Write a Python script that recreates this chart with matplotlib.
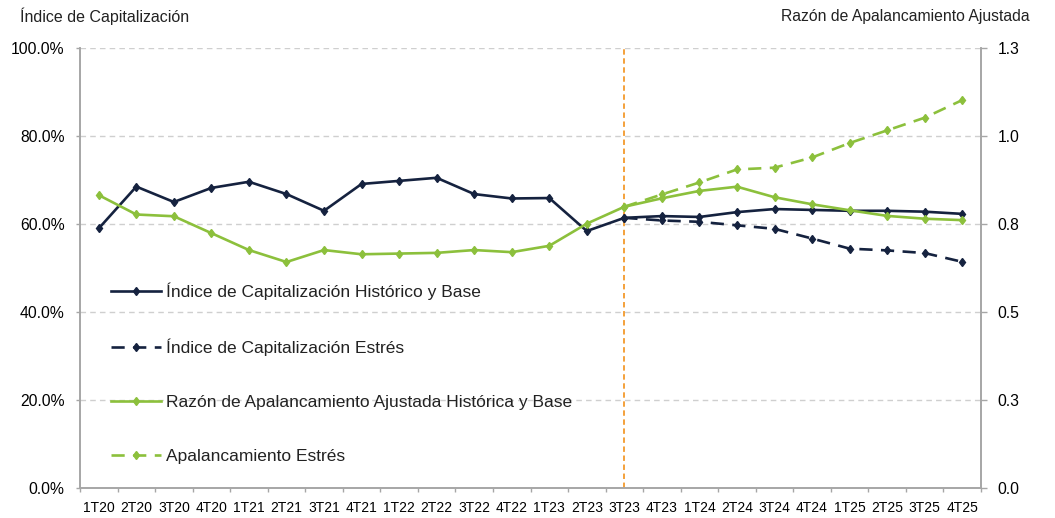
"""Índice de Capitalización y Razón de Apalancamiento Ajustada, histórico, base y estrés."""

import matplotlib

matplotlib.use("Agg")
import matplotlib.pyplot as plt
from matplotlib.ticker import FixedLocator, FuncFormatter

QUARTERS = [
    "1T20", "2T20", "3T20", "4T20", "1T21", "2T21", "3T21", "4T21",
    "1T22", "2T22", "3T22", "4T22", "1T23", "2T23", "3T23", "4T23",
    "1T24", "2T24", "3T24", "4T24", "1T25", "2T25", "3T25", "4T25",
]
STRESS_START = "3T23"

# Left axis, percent
ICAP_BASE = [
    59.0, 68.5, 65.0, 68.2, 69.6, 66.8, 63.0, 69.1, 69.8, 70.5, 66.8, 65.8,
    65.9, 58.4, 61.4, 61.8, 61.6, 62.7, 63.4, 63.2, 63.0, 63.0, 62.8, 62.3,
]
ICAP_STRESS = [61.4, 60.8, 60.5, 59.7, 58.9, 56.7, 54.4, 54.0, 53.4, 51.4]

# Right axis, ratio
RAA_BASE = [
    0.832, 0.777, 0.772, 0.724, 0.676, 0.642, 0.676, 0.664, 0.666, 0.668, 0.676, 0.670,
    0.688, 0.751, 0.799, 0.823, 0.844, 0.856, 0.826, 0.806, 0.789, 0.773, 0.765, 0.761,
]
RAA_STRESS = [0.799, 0.834, 0.868, 0.905, 0.910, 0.939, 0.980, 1.016, 1.052, 1.102]

RIGHT_TICKS = [0.0, 0.25, 0.5, 0.75, 1.0, 1.25]
RIGHT_TICK_LABELS = ["0.0", "0.3", "0.5", "0.8", "1.0", "1.3"]

NAVY = "#15223f"
GREEN = "#8cc03c"
ORANGE = "#f39a2c"
SPINE = "#a6a6a6"

plt.rcParams["font.family"] = ["Liberation Sans", "DejaVu Sans"]
plt.rcParams["text.color"] = "#222222"

x = list(range(len(QUARTERS)))
start = QUARTERS.index(STRESS_START)
x_stress = x[start:start + len(ICAP_STRESS)]

fig = plt.figure(figsize=(10.55, 5.18), dpi=100)
ax = fig.add_axes([80 / 1055, 30 / 518, 901 / 1055, 440 / 518])
ax2 = ax.twinx()

marker_kw = dict(marker="d", markersize=4.5)
dash = (5, 3.2)

l1, = ax.plot(x, ICAP_BASE, color=NAVY, lw=1.9, zorder=4, **marker_kw)
l2, = ax.plot(x_stress, ICAP_STRESS, color=NAVY, lw=1.9, dashes=dash, zorder=3, **marker_kw)
l3, = ax2.plot(x, RAA_BASE, color=GREEN, lw=1.9, zorder=4, **marker_kw)
l4, = ax2.plot(x_stress, RAA_STRESS, color=GREEN, lw=1.9, dashes=dash, zorder=3, **marker_kw)

ax.axvline(start, color=ORANGE, lw=1.3, dashes=(3, 2), zorder=2)

ax.set_xlim(-0.5, len(QUARTERS) - 0.5)
ax.set_ylim(0, 100)
ax2.set_ylim(0, 1.25)

ax.set_yticks([0, 20, 40, 60, 80, 100])
ax.yaxis.set_major_formatter(FuncFormatter(lambda v, _: f"{v:.1f}%"))
ax.grid(axis="y", color="#cfcfcf", lw=1.0, dashes=(4, 3))
ax.set_axisbelow(True)

ax2.set_yticks(RIGHT_TICKS)
ax2.set_yticklabels(RIGHT_TICK_LABELS)

ax.set_xticks(x)
ax.set_xticklabels(QUARTERS)
ax.xaxis.set_minor_locator(FixedLocator([i - 0.5 for i in range(len(QUARTERS) + 1)]))
ax.tick_params(axis="x", which="major", length=0, pad=9, labelsize=10)
ax.tick_params(axis="x", which="minor", length=3, color=SPINE, width=1)
ax.tick_params(axis="y", length=3, color=SPINE, width=1, pad=8, labelsize=11.3)
ax2.tick_params(axis="y", length=4, color=SPINE, width=1, pad=8, labelsize=11.3)

for a in (ax, ax2):
    a.spines["top"].set_visible(False)
    for side in ("left", "right", "bottom"):
        a.spines[side].set_color(SPINE)
        a.spines[side].set_linewidth(1.2)

ax.legend(
    [l1, l2, l3, l4],
    [
        "Índice de Capitalización Histórico y Base",
        "Índice de Capitalización Estrés",
        "Razón de Apalancamiento Ajustada Histórica y Base",
        "Apalancamiento Estrés",
    ],
    loc="lower left",
    bbox_to_anchor=(0.017, 0.0185),
    frameon=False,
    fontsize=12.5,
    handlelength=2.9,
    handletextpad=0.3,
    labelspacing=2.23,
)

fig.text(20 / 1055, 1 - 16 / 518, "Índice de Capitalización", fontsize=11.5, va="center", ha="left")
fig.text(1030 / 1055, 1 - 16 / 518, "Razón de Apalancamiento Ajustada", fontsize=11.3,
         va="center", ha="right")

fig.savefig("out.png", dpi=100)
